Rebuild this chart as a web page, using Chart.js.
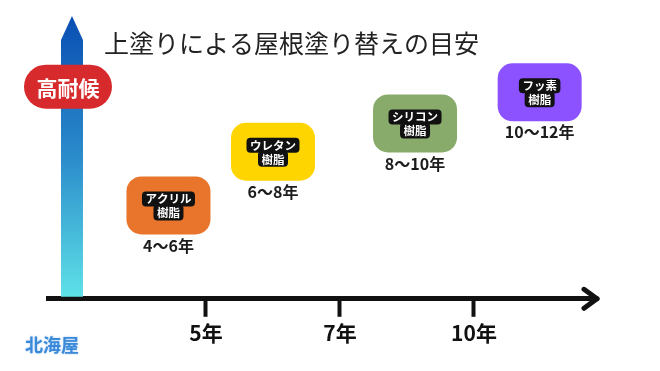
<!DOCTYPE html>
<html lang="ja">
<head>
<meta charset="utf-8">
<title>上塗りによる屋根塗り替えの目安</title>
<script src="https://cdn.jsdelivr.net/npm/chart.js@4.4.1/dist/chart.umd.min.js"></script>
<style>
  html, body { margin: 0; padding: 0; background: #fff; }
  canvas { display: block; }
</style>
</head>
<body>
<canvas id="myChart" width="660" height="371"></canvas>
<script>
var FONT = "'Noto Sans CJK JP', 'Noto Sans', sans-serif";

// 塗料の種類と塗り替え目安
var paints = ["アクリル", "ウレタン", "シリコン", "フッ素"];
var ranges = ["4〜6年", "6〜8年", "8〜10年", "10〜12年"];
var boxColors = ["#e8752b", "#ffd500", "#88ab6b", "#8c52ff"];
// position along the time axis (tick units) and durability level (0-100)
var boxX = [0.72, 1.5, 2.56, 3.49];
var boxY = [33, 52, 62, 73];
// time axis ticks
var tickPos = [1, 2, 3];
var tickLabels = ["5年", "7年", "10年"];

Chart.defaults.font.family = FONT;

var decor = {
    id: 'decor',
    beforeDatasetsDraw: function(chart) {
        var ctx = chart.ctx;
        var x = chart.scales.x, y = chart.scales.y;
        var cx = x.getPixelForValue(0);
        var bottom = y.getPixelForValue(0);
        var top = y.getPixelForValue(100);

        // vertical arrow (耐候性)
        ctx.save();
        var g = ctx.createLinearGradient(0, top, 0, bottom);
        g.addColorStop(0, '#0a4eb3');
        g.addColorStop(0.5, '#2b8ccb');
        g.addColorStop(1, '#5fe2e8');
        ctx.fillStyle = g;
        ctx.beginPath();
        ctx.moveTo(cx, top);
        ctx.lineTo(cx + 11, top + 24);
        ctx.lineTo(cx + 11, bottom - 2);
        ctx.lineTo(cx - 11, bottom - 2);
        ctx.lineTo(cx - 11, top + 24);
        ctx.closePath();
        ctx.fill();

        // 高耐候 label
        var py = y.getPixelForValue(75);
        ctx.fillStyle = '#d72a2c';
        ctx.beginPath();
        ctx.roundRect(cx - 48, py - 22, 88, 44, 22);
        ctx.fill();
        ctx.fillStyle = '#fff';
        ctx.font = 'bold 21px ' + FONT;
        ctx.textAlign = 'center';
        ctx.textBaseline = 'middle';
        ctx.fillText('高耐候', cx - 4, py + 1);

        // title
        ctx.fillStyle = '#222';
        ctx.font = '25px ' + FONT;
        ctx.textAlign = 'left';
        ctx.fillText('上塗りによる屋根塗り替えの目安', 104, 43);

        // arrow head of the time axis
        var ay = y.getPixelForValue(0);
        var ax = chart.chartArea.right + 2;
        ctx.strokeStyle = '#111';
        ctx.lineWidth = 5;
        ctx.lineCap = 'round';
        ctx.lineJoin = 'round';
        ctx.beginPath();
        ctx.moveTo(ax - 13, ay - 9.5);
        ctx.lineTo(ax, ay);
        ctx.lineTo(ax - 13, ay + 9.5);
        ctx.stroke();
        ctx.beginPath();
        ctx.moveTo(ax - 8, ay);
        ctx.lineTo(ax, ay);
        ctx.stroke();

        // logo
        ctx.font = 'bold 18px ' + FONT;
        ctx.fillStyle = '#3b8ad9';
        ctx.shadowColor = 'rgba(110,170,235,0.7)';
        ctx.shadowBlur = 2;
        ctx.fillText('北海屋', 25, 345);
        ctx.restore();
    },
    afterDatasetsDraw: function(chart) {
        var ctx = chart.ctx;
        var meta = chart.getDatasetMeta(0);
        ctx.save();
        ctx.textAlign = 'center';
        ctx.textBaseline = 'middle';
        meta.data.forEach(function(pt, i) {
            var px = pt.x, py = pt.y;
            ctx.fillStyle = boxColors[i];
            ctx.beginPath();
            ctx.roundRect(px - 42, py - 29, 84, 58, 15);
            ctx.fill();

            ctx.font = 'bold 11.5px ' + FONT;
            var w1 = ctx.measureText(paints[i]).width + 7;
            var w2 = ctx.measureText('樹脂').width + 7;
            ctx.fillStyle = '#111';
            ctx.beginPath();
            ctx.roundRect(px - w1 / 2, py - 14, w1, 15, 4);
            ctx.fill();
            ctx.beginPath();
            ctx.roundRect(px - w2 / 2, py - 1, w2, 16, 4);
            ctx.fill();
            ctx.fillStyle = '#fff';
            ctx.fillText(paints[i], px, py - 6.5);
            ctx.fillText('樹脂', px, py + 7.5);

            ctx.fillStyle = '#1c1c1c';
            ctx.font = 'bold 16px ' + FONT;
            ctx.fillText(ranges[i], px, py + 40);
        });
        ctx.restore();
    }
};

var ctx = document.getElementById("myChart").getContext("2d");
var myChart = new Chart(ctx, {
    type: 'scatter',
    data: {
        datasets: [{
            label: '塗料',
            data: boxX.map(function(v, i) { return { x: v, y: boxY[i] }; }),
            pointRadius: 0,
            pointHoverRadius: 0
        }]
    },
    options: {
        responsive: false,
        animation: false,
        events: [],
        layout: { padding: { left: 48, right: 65, top: 16, bottom: 21 } },
        plugins: {
            legend: { display: false },
            tooltip: { enabled: false }
        },
        scales: {
            x: {
                type: 'linear',
                min: -0.179,
                max: 3.903,
                afterBuildTicks: function(scale) {
                    scale.ticks = tickPos.map(function(v) { return { value: v }; });
                },
                border: { display: true, color: '#111', width: 5 },
                grid: {
                    drawOnChartArea: false,
                    drawTicks: true,
                    tickLength: 18,
                    tickWidth: 4,
                    tickColor: '#111'
                },
                ticks: {
                    padding: 4,
                    color: '#111',
                    font: { size: 21, weight: 'bold' },
                    callback: function(v) {
                        return tickLabels[tickPos.indexOf(v)];
                    }
                }
            },
            y: {
                display: false,
                min: 0,
                max: 100
            }
        }
    },
    plugins: [decor]
});
</script>
</body>
</html>
